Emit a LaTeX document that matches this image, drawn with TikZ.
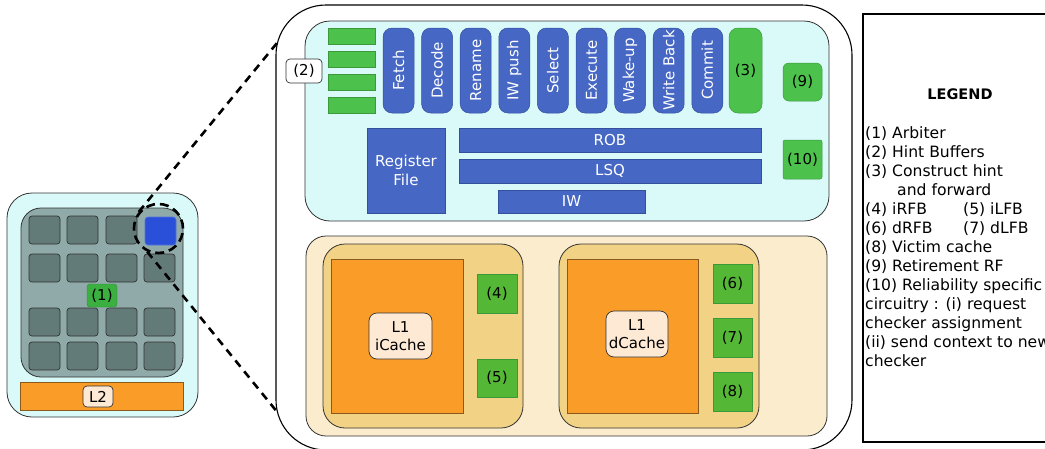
\documentclass[tikz,border=0pt]{standalone}
\usepackage{fontspec}
\setmainfont{DejaVu Sans}
\usetikzlibrary{shapes.geometric}

\definecolor{chipcyan}{HTML}{DAFAFA}
\definecolor{meshgray}{HTML}{8FAAA8}
\definecolor{tilegray}{HTML}{637B78}
\definecolor{tileblue}{HTML}{2A50DA}
\definecolor{stageblue}{HTML}{4667C4}
\definecolor{stageedge}{HTML}{34509C}
\definecolor{hintgreen}{HTML}{4CC24C}
\definecolor{hintedge}{HTML}{3A9A3A}
\definecolor{buffgreen}{HTML}{55B736}
\definecolor{arbgreen}{HTML}{3BB040}
\definecolor{cacheorange}{HTML}{F99C28}
\definecolor{orangeedge}{HTML}{8A5A1C}
\definecolor{memback}{HTML}{FBECCD}
\definecolor{lonebg}{HTML}{F2D284}
\definecolor{tagfill}{HTML}{FDE9D4}
\definecolor{edgegray}{HTML}{333333}

% box given by its two corners: \cbox[style]{name}{x1}{y1}{x2}{y2}{text}
\newcommand\cbox[7][]{%
  \pgfmathsetmacro\bxx{(#3+#5)/2}%
  \pgfmathsetmacro\bxy{(#4+#6)/2}%
  \pgfmathsetmacro\bxw{#5-#3}%
  \pgfmathsetmacro\bxh{#6-#4}%
  \node[blk,#1,minimum width=\bxw pt,minimum height=\bxh pt] (#2) at (\bxx,\bxy) {#7};}

\begin{document}
\begin{tikzpicture}[x=1pt,y=-1pt,
  font=\fontsize{15}{18.5}\selectfont,
  blk/.style={inner sep=1pt,outer sep=0pt,align=center},
  panel/.style={draw=edgegray,line width=0.8pt},
  tile/.style={fill=tilegray,draw=edgegray,line width=0.7pt,rounded corners=3pt},
  stage/.style={blk,rotate=90,minimum width=85pt,minimum height=31pt,
    rounded corners=9pt,fill=stageblue,draw=stageedge,line width=0.5pt,text=white},
  bluebar/.style={fill=stageblue,draw=stageedge,line width=0.5pt,text=white},
  hint/.style={fill=hintgreen,draw=hintedge,line width=0.5pt},
  buff/.style={fill=buffgreen,draw=hintedge,line width=0.5pt},
  tag/.style={fill=tagfill,draw=edgegray,line width=0.7pt,rounded corners=5pt},
  cache/.style={fill=cacheorange,draw=orangeedge,line width=0.6pt},
  legtext/.style={font=\fontsize{15.6}{19}\selectfont},
  zoomline/.style={line width=2.6pt,dash pattern=on 8pt off 6pt}]

\useasboundingbox (0,0) rectangle (1045,448);

% ---------------- many-core chip ----------------
\cbox[panel,fill=chipcyan,rounded corners=25pt]{chip}{7}{193}{198}{417}{}
\cbox[panel,fill=meshgray,rounded corners=20pt]{mesh}{21}{208}{183}{377}{}
\foreach \c/\x in {0/29,1/67,2/106,3/144}{
  \foreach \r/\y in {0/216,1/254,2/308,3/342}{
    \ifnum\numexpr\c*10+\r\relax=30\else
      \cbox[tile]{tile-\r-\c}{\x}{\y}{\x+31}{\y+28}{}
    \fi
  }
}
\cbox[fill=tileblue,draw=tileblue!80!white,line width=0.6pt,rounded corners=3pt]{mytile}{145}{217}{176}{245}{}
\cbox[fill=arbgreen,draw=arbgreen!80!black,line width=0.4pt,rounded corners=3pt]{arb}{87}{284}{117}{307}{(1)}
\cbox[cache]{ltwo}{20}{382}{183}{410}{}
\cbox[tag,rounded corners=4pt]{ltwotag}{83}{386}{113}{407}{L2}

% ---------------- enlarged core ----------------
\cbox[draw=black,line width=1.1pt,rounded corners=50pt,fill=white]{core}{276}{5}{852}{450}{}
\coordinate (zoomtop) at (277,43);
\coordinate (zoombot) at (278,413);

% pipeline section
\cbox[panel,fill=chipcyan,rounded corners=25pt]{pipe}{305}{21}{829}{221}{}
\foreach \y [count=\i] in {28,51,74,97}{
  \cbox[hint]{hb\i}{328}{\y}{375}{\y+16}{}
}
\cbox[tag,fill=white,rounded corners=4pt]{hbtag}{286}{59}{322}{83}{(2)}
\foreach \t [count=\i from 0] in {Fetch,Decode,Rename,IW push,Select,Execute,Wake-up,Write Back,Commit}{
  \pgfmathsetmacro\sx{398.5+38.6*\i}
  \node[stage] (st\i) at (\sx,70.5) {\t};
}
\cbox[hint,rounded corners=9pt]{fwd}{729}{28}{762}{113}{(3)}
\cbox[hint,rounded corners=6pt]{retrf}{783}{63}{822}{101}{(9)}
\cbox[hint,rounded corners=2pt]{relc}{783}{140}{822}{179}{(10)}
\cbox[bluebar]{regfile}{367}{128}{445}{213}{Register\\File}
\cbox[bluebar]{rob}{459}{128}{761}{152}{ROB}
\cbox[bluebar]{lsq}{459}{159}{761}{183}{LSQ}
\cbox[bluebar]{iw}{498}{190}{645}{213}{IW}

% memory section
\cbox[panel,fill=memback,rounded corners=20pt]{mem}{306}{236}{827}{436}{}
\cbox[panel,fill=lonebg,rounded corners=22pt]{icbox}{323}{244}{523}{428}{}
\cbox[cache]{icache}{331}{259}{463}{413}{}
\cbox[tag,rounded corners=8pt]{ictag}{369}{313}{432}{359}{L1\\iCache}
\cbox[buff]{irfb}{477}{274}{517}{313}{(4)}
\cbox[buff]{ilfb}{477}{359}{517}{397}{(5)}
\cbox[panel,fill=lonebg,rounded corners=22pt]{dcbox}{559}{244}{759}{428}{}
\cbox[cache]{dcache}{567}{259}{698}{413}{}
\cbox[tag,rounded corners=8pt]{dctag}{606}{311}{668}{357}{L1\\dCache}
\cbox[buff]{drfb}{713}{264}{752}{303}{(6)}
\cbox[buff]{dlfb}{713}{318}{752}{357}{(7)}
\cbox[buff]{victim}{713}{372}{752}{411}{(8)}

% zoom marker
\node[circle,draw,line width=2.6pt,dash pattern=on 9pt off 5pt,minimum size=49pt,inner sep=0pt] (ring) at (158.5,228.5) {};
\draw[zoomline] (ring.140) -- (zoomtop);
\draw[zoomline] (ring.244) -- (zoombot);

% ---------------- legend ----------------
\cbox[draw=black,line width=2pt,fill=white]{legend}{863}{14}{1060}{442}{}
\node[anchor=base,font={\fontsize{14.5}{18}\selectfont\bfseries}] (legtitle) at (960,99) {LEGEND};
\foreach \txt [count=\i from 0] in {
  {(1) Arbiter},
  {(2) Hint Buffers},
  {(3) Construct hint},
  {\hspace*{32pt}and forward},
  {\makebox[98pt][l]{(4) iRFB}(5) iLFB},
  {\makebox[98pt][l]{(6) dRFB}(7) dLFB},
  {(8) Victim cache},
  {(9) Retirement RF},
  {(10) Reliability specific},
  {circuitry : (i) request},
  {checker assignment},
  {(ii) send context to new},
  {checker}}{
  \pgfmathsetmacro\ly{138.3+19.05*\i}
  \node[anchor=base west,inner sep=0pt,legtext] (leg\i) at (865,\ly) {\txt};
}
\end{tikzpicture}
\end{document}
